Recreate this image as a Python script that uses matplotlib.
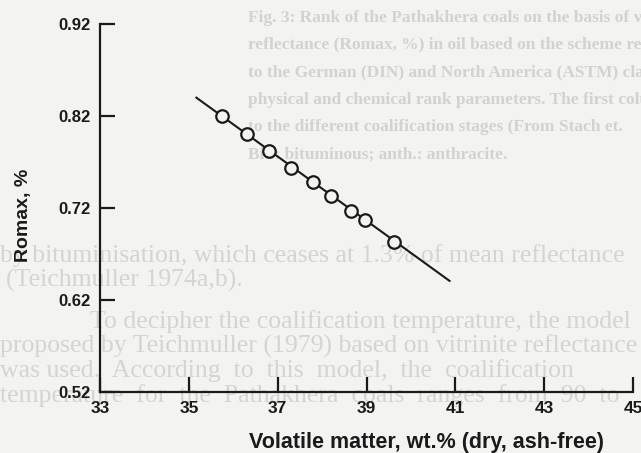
import matplotlib
matplotlib.use("Agg")
import matplotlib.pyplot as plt

# rank vs volatile matter
vm = [35.74, 36.32, 36.81, 37.31, 37.79, 38.20, 38.64, 38.96, 39.61]
ro = [0.820, 0.801, 0.782, 0.764, 0.748, 0.733, 0.717, 0.707, 0.683]
fit_vm = [35.17, 40.87]
fit_ro = [0.840, 0.641]

xticks = [33, 35, 37, 39, 41, 43, 45]
yticks = [0.52, 0.62, 0.72, 0.82, 0.92]

# page text showing through the scan
caption = ["Fig. 3: Rank of the Pathakhera coals on the basis of v",
           "reflectance (Romax, %) in oil based on the scheme rep",
           "to the German (DIN) and North America (ASTM) clas",
           "physical and chemical rank parameters. The first colu",
           "to the different coalification stages (From Stach et.",
           "Bit.: bituminous; anth.: anthracite."]
body = [("by bituminisation, which ceases at 1.3% of mean reflectance", 0, 256),
        ("(Teichmuller 1974a,b).", 6, 280),
        ("To decipher the coalification temperature, the model", 90, 322),
        ("proposed by Teichmuller (1979) based on vitrinite reflectance", 0, 346),
        ("was used.  According  to  this  model,  the  coalification", 0, 371),
        ("temperature  for  the  Pathakhera  coals  ranges  from  90  to", 0, 396)]

bg = "#f3f3f1"
W, H = 641, 453
fig = plt.figure(figsize=(W / 100, H / 100), dpi=100, facecolor=bg)

for i, line in enumerate(caption):
    fig.text(248 / W, 1 - (18 + 27.3 * i) / H, line, family="Liberation Serif",
             weight="bold", fontsize=12.5, color="#d2d2d0", va="center", zorder=-5)
for line, x, y in body:
    fig.text(x / W, 1 - y / H, line, family="Liberation Serif", fontsize=18.5,
             color="#d4d4d2", va="center", zorder=-5)

ax = fig.add_axes([100 / W, 1 - 392.3 / H, 533 / W, 368.3 / H])
ax.set_facecolor("none")
ink = "#1a1a1a"

ax.plot(fit_vm, fit_ro, color=ink, lw=1.5, zorder=2)
ax.plot(vm, ro, ls="none", marker="o", ms=9, mfc=bg, mec=ink, mew=1.6, zorder=3)

ax.set_xlim(33, 45)
ax.set_ylim(0.52, 0.92)
for s in ("top", "right"):
    ax.spines[s].set_visible(False)
for s in ("left", "bottom"):
    ax.spines[s].set_linewidth(1.6)
    ax.spines[s].set_color(ink)

ax.set_xticks(xticks)
ax.set_xticklabels([str(t) for t in xticks], family="Liberation Sans",
                   weight="bold", fontsize=12.5)
ax.set_yticks(yticks)
ax.set_yticklabels([f"{t:.2f}" for t in yticks], family="Liberation Sans",
                   weight="bold", fontsize=12)
ax.tick_params(direction="in", length=10.5, width=1.6, color=ink, labelcolor=ink)
ax.tick_params(axis="y", pad=7)
ax.tick_params(axis="x", pad=6)

ax.set_xlabel("Volatile matter, wt.% (dry, ash-free)", family="Liberation Sans",
              weight="bold", fontsize=15.5, color=ink)
ax.xaxis.set_label_coords(0.6126, -0.108)
ax.set_ylabel("Romax, %", family="Liberation Sans", weight="bold", fontsize=14,
              color=ink)
ax.yaxis.set_label_coords(-0.1276, 0.480)

fig.savefig("out.png", dpi=100, facecolor=bg)
